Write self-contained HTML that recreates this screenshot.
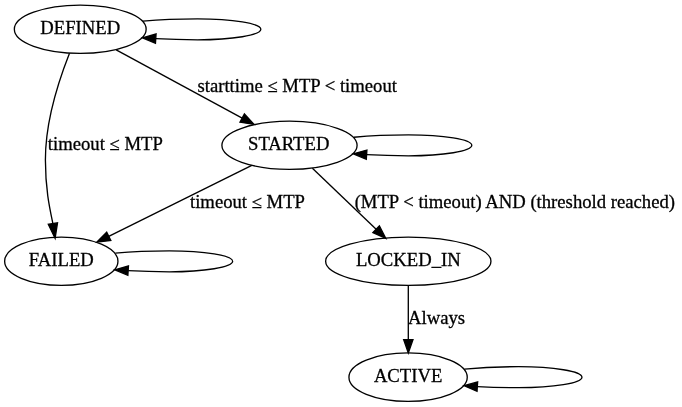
<!DOCTYPE html>
<html><head><meta charset="utf-8"><style>
html,body{margin:0;padding:0;background:#fff;width:682px;height:407px;overflow:hidden}
svg{display:block;will-change:transform}
text{font-family:"Liberation Serif",serif;font-size:18.67px;fill:#000;stroke:#000;stroke-width:0.3px}
</style></head><body>
<svg width="682" height="407" viewBox="0 0 682 407">
<ellipse fill="none" stroke="#000" stroke-width="1.33" cx="80.25" cy="29.25" rx="65.9" ry="24.1"/>
<text transform="translate(80.25,34.15) scale(1,0.96)" text-anchor="middle">DEFINED</text>
<ellipse fill="none" stroke="#000" stroke-width="1.33" cx="289.5" cy="145.3" rx="67.6" ry="24.1"/>
<text transform="translate(288.70,150.20) scale(1,0.96)" text-anchor="middle">STARTED</text>
<ellipse fill="none" stroke="#000" stroke-width="1.33" cx="61.3" cy="261.25" rx="56.65" ry="24.1"/>
<text transform="translate(61.30,266.15) scale(1,0.96)" text-anchor="middle">FAILED</text>
<ellipse fill="none" stroke="#000" stroke-width="1.33" cx="408.3" cy="261.25" rx="82.65" ry="24.1"/>
<text transform="translate(408.30,266.15) scale(1,0.96)" text-anchor="middle">LOCKED_IN</text>
<ellipse fill="none" stroke="#000" stroke-width="1.33" cx="408.1" cy="377.15" rx="59.15" ry="24.2"/>
<text transform="translate(408.10,382.05) scale(1,0.96)" text-anchor="middle">ACTIVE</text>
<path fill="none" stroke="#000" stroke-width="1.33" d="M142.96,21.20C162.07,19.40 178.45,18.80 197.55,18.80C232.51,18.80 260.85,23.50 260.85,29.30C260.85,35.10 232.51,39.80 197.55,39.80C182.91,39.80 169.88,39.45 155.77,38.65"/><polygon fill="#000" stroke="#000" stroke-width="1.33" points="156.07,33.99 142.46,37.80 155.47,43.31"/>
<path fill="none" stroke="#000" stroke-width="1.33" d="M353.82,137.25C372.96,135.45 389.36,134.85 408.50,134.85C443.46,134.85 471.80,139.55 471.80,145.35C471.80,151.15 443.46,155.85 408.50,155.85C393.83,155.85 380.76,155.50 366.61,154.70"/><polygon fill="#000" stroke="#000" stroke-width="1.33" points="366.90,150.04 353.30,153.85 366.31,159.36"/>
<path fill="none" stroke="#000" stroke-width="1.33" d="M115.30,253.20C134.22,251.40 150.43,250.80 169.35,250.80C204.31,250.80 232.65,255.50 232.65,261.30C232.65,267.10 204.31,271.80 169.35,271.80C154.91,271.80 142.05,271.45 128.17,270.66"/><polygon fill="#000" stroke="#000" stroke-width="1.33" points="128.47,266.00 114.87,269.80 127.86,275.32"/>
<path fill="none" stroke="#000" stroke-width="1.33" d="M464.48,369.10C483.44,367.30 499.69,366.70 518.65,366.70C553.61,366.70 581.95,371.40 581.95,377.20C581.95,383.00 553.61,387.70 518.65,387.70C504.17,387.70 491.27,387.35 477.34,386.56"/><polygon fill="#000" stroke="#000" stroke-width="1.33" points="477.64,381.90 464.04,385.70 477.04,391.22"/>
<path fill="none" stroke="#000" stroke-width="1.33" d="M116.20,49.80L242.18,118.05"/><polygon fill="#000" stroke="#000" stroke-width="1.33" points="239.95,122.16 253.90,124.40 244.40,113.94"/>
<text transform="translate(297.20,91.90) scale(1,0.96)" text-anchor="middle">starttime ≤ MTP &lt; timeout</text>
<path fill="none" stroke="#000" stroke-width="1.33" d="M69.5,53.2C55,90 45.3,125 45.4,160C45.5,190 49.6,208 52.9,223.6"/><polygon fill="#000" stroke="#000" stroke-width="1.33" points="48.28,224.29 55.10,238.40 57.52,222.91"/>
<text transform="translate(105.30,150.00) scale(1,0.96)" text-anchor="middle">timeout ≤ MTP</text>
<path fill="none" stroke="#000" stroke-width="1.33" d="M251.80,165.30L108.74,236.28"/><polygon fill="#000" stroke="#000" stroke-width="1.33" points="106.67,232.09 96.80,242.20 110.82,240.46"/>
<text transform="translate(247.50,207.90) scale(1,0.96)" text-anchor="middle">timeout ≤ MTP</text>
<path fill="none" stroke="#000" stroke-width="1.33" d="M312.40,168.30L376.16,229.19"/><polygon fill="#000" stroke="#000" stroke-width="1.33" points="372.93,232.57 385.80,238.40 379.39,225.82"/>
<text transform="translate(514.80,207.90) scale(1,0.96)" text-anchor="middle">(MTP &lt; timeout) AND (threshold reached)</text>
<path fill="none" stroke="#000" stroke-width="1.33" d="M408.30,285.30L408.30,339.62"/><polygon fill="#000" stroke="#000" stroke-width="1.33" points="403.63,339.62 408.30,352.95 412.97,339.62"/>
<text transform="translate(436.60,323.90) scale(1,0.96)" text-anchor="middle">Always</text>
</svg></body></html>
